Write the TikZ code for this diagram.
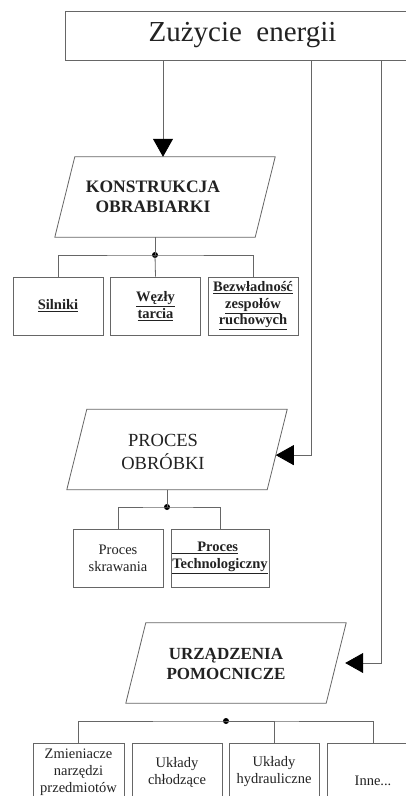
\documentclass[tikz,border=0pt]{standalone}
\usepackage{fontspec}
\setmainfont{Liberation Serif}
\usetikzlibrary{arrows.meta,calc}
\definecolor{linegray}{HTML}{666666}
\definecolor{textc}{HTML}{222222}
\begin{document}
\begin{tikzpicture}[x=1pt,y=-1pt,
 line/.style={draw=linegray,line width=0.8pt},
 arr/.style={line,-{Triangle[length=18pt,width=20pt,color=black]}},
 parabody/.style={minimum height=80pt,minimum width=200pt,inner sep=0pt},
 ptext/.style={align=center,text=textc,inner sep=0pt},
 sbox/.style={line,minimum height=58pt,minimum width=90pt,inner sep=1pt,align=center,text=textc,font=\fontsize{14.5}{17}\selectfont},
 jdot/.style={circle,fill=black,inner sep=0pt,minimum size=6pt}]
\useasboundingbox[fill=white] (0,0) rectangle (405,796);
% top
\node[line,minimum width=355pt,minimum height=49pt,font=\fontsize{29}{34}\selectfont,text=textc] (zu) at (242.5,35.5) {Zużycie\hspace{0.5em}energii};
% parallelograms (body node + slanted outline)
\foreach \n/\cx/\cy in {kon/165/197, pro/177/449.5, urz/236/663}{
  \node[parabody] (\n) at (\cx,\cy) {};
  \draw[line] ([xshift=-10pt]\n.south west) -- ([xshift=10pt]\n.north west)
     -- ([xshift=10pt]\n.north east) -- ([xshift=-10pt]\n.south east) -- cycle;
}
\node[ptext,font=\bfseries\fontsize{17.5}{20}\selectfont] (kont) at (153,197) {KONSTRUKCJA\\OBRABIARKI};
\node[ptext,font=\fontsize{18.5}{23}\selectfont] (prot) at (163,451.5) {PROCES\\OBRÓBKI};
\node[ptext,font=\bfseries\fontsize{17}{20}\selectfont] (urzt) at (226,663.5) {URZĄDZENIA\\POMOCNICZE};
% konstrukcja children
\node[sbox,font=\bfseries\fontsize{14.5}{17}\selectfont] (s1) at (58,306) {\underline{Silniki}};
\node[sbox,font=\bfseries\fontsize{14.5}{17}\selectfont] (s2) at (155.5,306) {\underline{Węzły}\\\underline{tarcia}};
\node[sbox,font=\bfseries\fontsize{14.5}{16.5}\selectfont] (s3) at (253,306) {\underline{Bezwładność}\\\underline{zespołów}\\\underline{ruchowych}};
\node[jdot] (d1) at (155,255) {};
\draw[line] ([xshift=-10pt]kon.south) -- (d1.center);
\draw[line] (s1.north) |- (d1.center) -| (s3.north);
\draw[line] (d1.center) -- (s2.north);
% proces children
\node[sbox] (p1) at (118,558) {Proces\\skrawania};
\node[sbox,minimum width=98pt,align=left,font=\bfseries\fontsize{14.5}{17}\selectfont] (p2) at (220,558) {\underline{\hspace*{25pt}Proces}\\\underline{Technologiczny}};
\node[jdot] (d2) at (167,507) {};
\draw[line] ([xshift=-10pt]pro.south) -- (d2.center);
\draw[line] (p1.north) |- (d2.center) -| (p2.north);
% urzadzenia children
\node[sbox,minimum width=91pt] (u1) at (78.5,772) {Zmieniacze\\narzędzi\\przedmiotów};
\node[sbox] (u2) at (177,772) {Układy\\chłodzące};
\node[sbox] (u3) at (274,772) {Układy\\hydrauliczne};
\node[sbox,minimum width=92pt] (u4) at (373,772) {\raisebox{-13pt}[0pt][0pt]{Inne...}};
\node[jdot] (d3) at (226,721) {};
\draw[line] (u1.north) |- (d3.center) -| (u4.north);
\draw[line] (d3.center) -| (u3.north);
% arrows from top
\path ([xshift=-2pt]kon.north) coordinate (k1);
\coordinate (v1) at (311,0);
\coordinate (v2) at (381,0);
\path ($([xshift=10pt]pro.north east)!0.57!([xshift=-10pt]pro.south east)$) coordinate (pe);
\path ([xshift=9pt]urz.east) coordinate (ue);
\draw[arr] (zu.south -| k1) -- (k1);
\draw[arr] (zu.south -| v1) |- (pe);
\draw[arr] (zu.south -| v2) |- (ue);
\end{tikzpicture}
\end{document}
